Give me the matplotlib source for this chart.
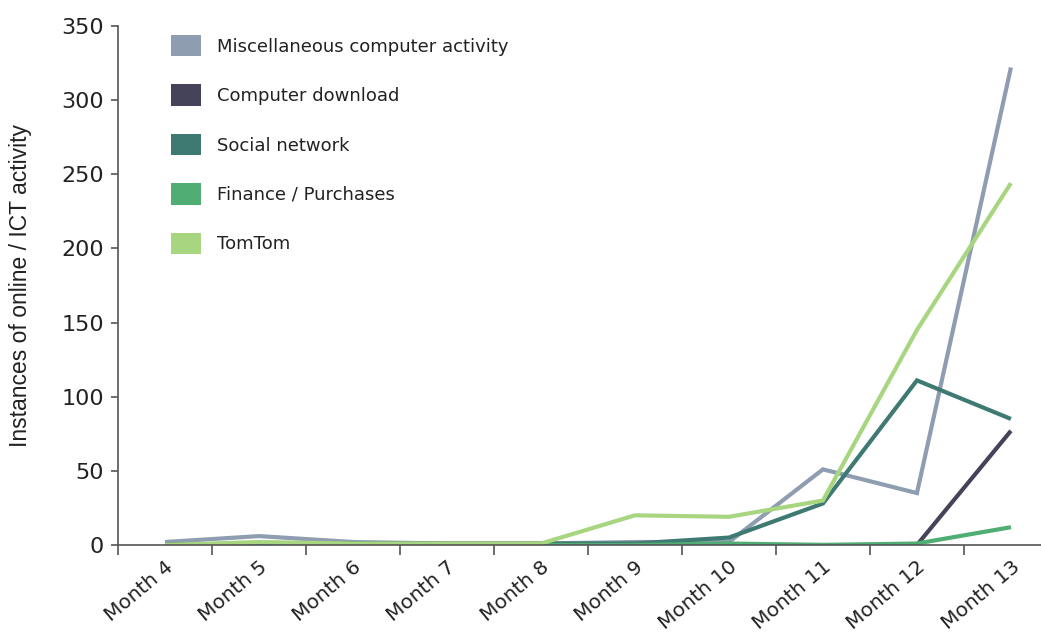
import matplotlib
matplotlib.use("Agg")
import matplotlib.pyplot as plt
import matplotlib.transforms as mtransforms
from matplotlib.patches import Patch
from matplotlib.ticker import FixedLocator
from matplotlib import font_manager

months = ["Month 4", "Month 5", "Month 6", "Month 7", "Month 8",
          "Month 9", "Month 10", "Month 11", "Month 12", "Month 13"]
misc = [2, 6, 2, 1, 1, 2, 2, 51, 35, 322]
download = [0, 0, 0, 0, 0, 0, 0, 0, 0, 77]
social = [0, 1, 1, 1, 1, 1, 5, 28, 111, 85]
finance = [0, 1, 0, 0, 0, 0, 1, 0, 1, 12]
tomtom = [0, 2, 1, 1, 1, 20, 19, 30, 145, 244]

series = [
    ("Miscellaneous computer activity", misc, "#8e9db0"),
    ("Computer download", download, "#45435a"),
    ("Social network", social, "#3f7a72"),
    ("Finance / Purchases", finance, "#50ad73"),
    ("TomTom", tomtom, "#a8d680"),
]

plt.rcParams["font.family"] = ["DejaVu Sans"]
names = {f.name for f in font_manager.fontManager.ttflist}
narrow = "Liberation Sans Narrow" if "Liberation Sans Narrow" in names else "Liberation Sans"

fig = plt.figure(figsize=(10.41, 6.34), dpi=100)
ax = fig.add_axes([0.1134, 0.1404, 0.8866, 0.8186])

x = list(range(len(months)))
for name, vals, col in series:
    ax.plot(x, vals, color=col, lw=3, solid_capstyle="butt", solid_joinstyle="miter")

ax.set_ylim(0, 350)
ax.set_xlim(-0.5, 9.32)
ax.set_yticks(range(0, 351, 50))
ax.tick_params(axis="y", labelsize=16, length=5, width=1.2, color="#555555",
               pad=5, labelcolor="#222222")

ax.xaxis.set_major_locator(FixedLocator([i - 0.5 for i in range(11)]))
ax.set_xticklabels([], minor=False)
ax.set_xticks(x, minor=True)
labels = ax.set_xticklabels(months, minor=True, rotation=40, ha="right",
                            rotation_mode="anchor", fontsize=14.5, color="#222222")
offset = mtransforms.ScaledTranslation(8 / 100, 0, fig.dpi_scale_trans)
for lab in labels:
    lab.set_transform(lab.get_transform() + offset)
ax.tick_params(axis="x", which="major", length=7, width=1.2, color="#555555")
ax.tick_params(axis="x", which="minor", length=0, pad=9)

for s in ["top", "right"]:
    ax.spines[s].set_visible(False)
for s in ["left", "bottom"]:
    ax.spines[s].set_color("#555555")
    ax.spines[s].set_linewidth(1.2)

ax.set_ylabel("Instances of online / ICT activity", fontsize=16.5,
              family=[narrow, "DejaVu Sans"], labelpad=21, color="#222222")

handles = [Patch(facecolor=c, edgecolor="none") for _, _, c in series]
ax.legend(handles, [n for n, _, _ in series], loc="upper left",
          bbox_to_anchor=(0.04, 1.014), frameon=False, fontsize=13,
          handlelength=1.67, handleheight=1.45, labelspacing=1.55,
          handletextpad=0.85, labelcolor="#222222")

fig.savefig("out.png", dpi=100)
